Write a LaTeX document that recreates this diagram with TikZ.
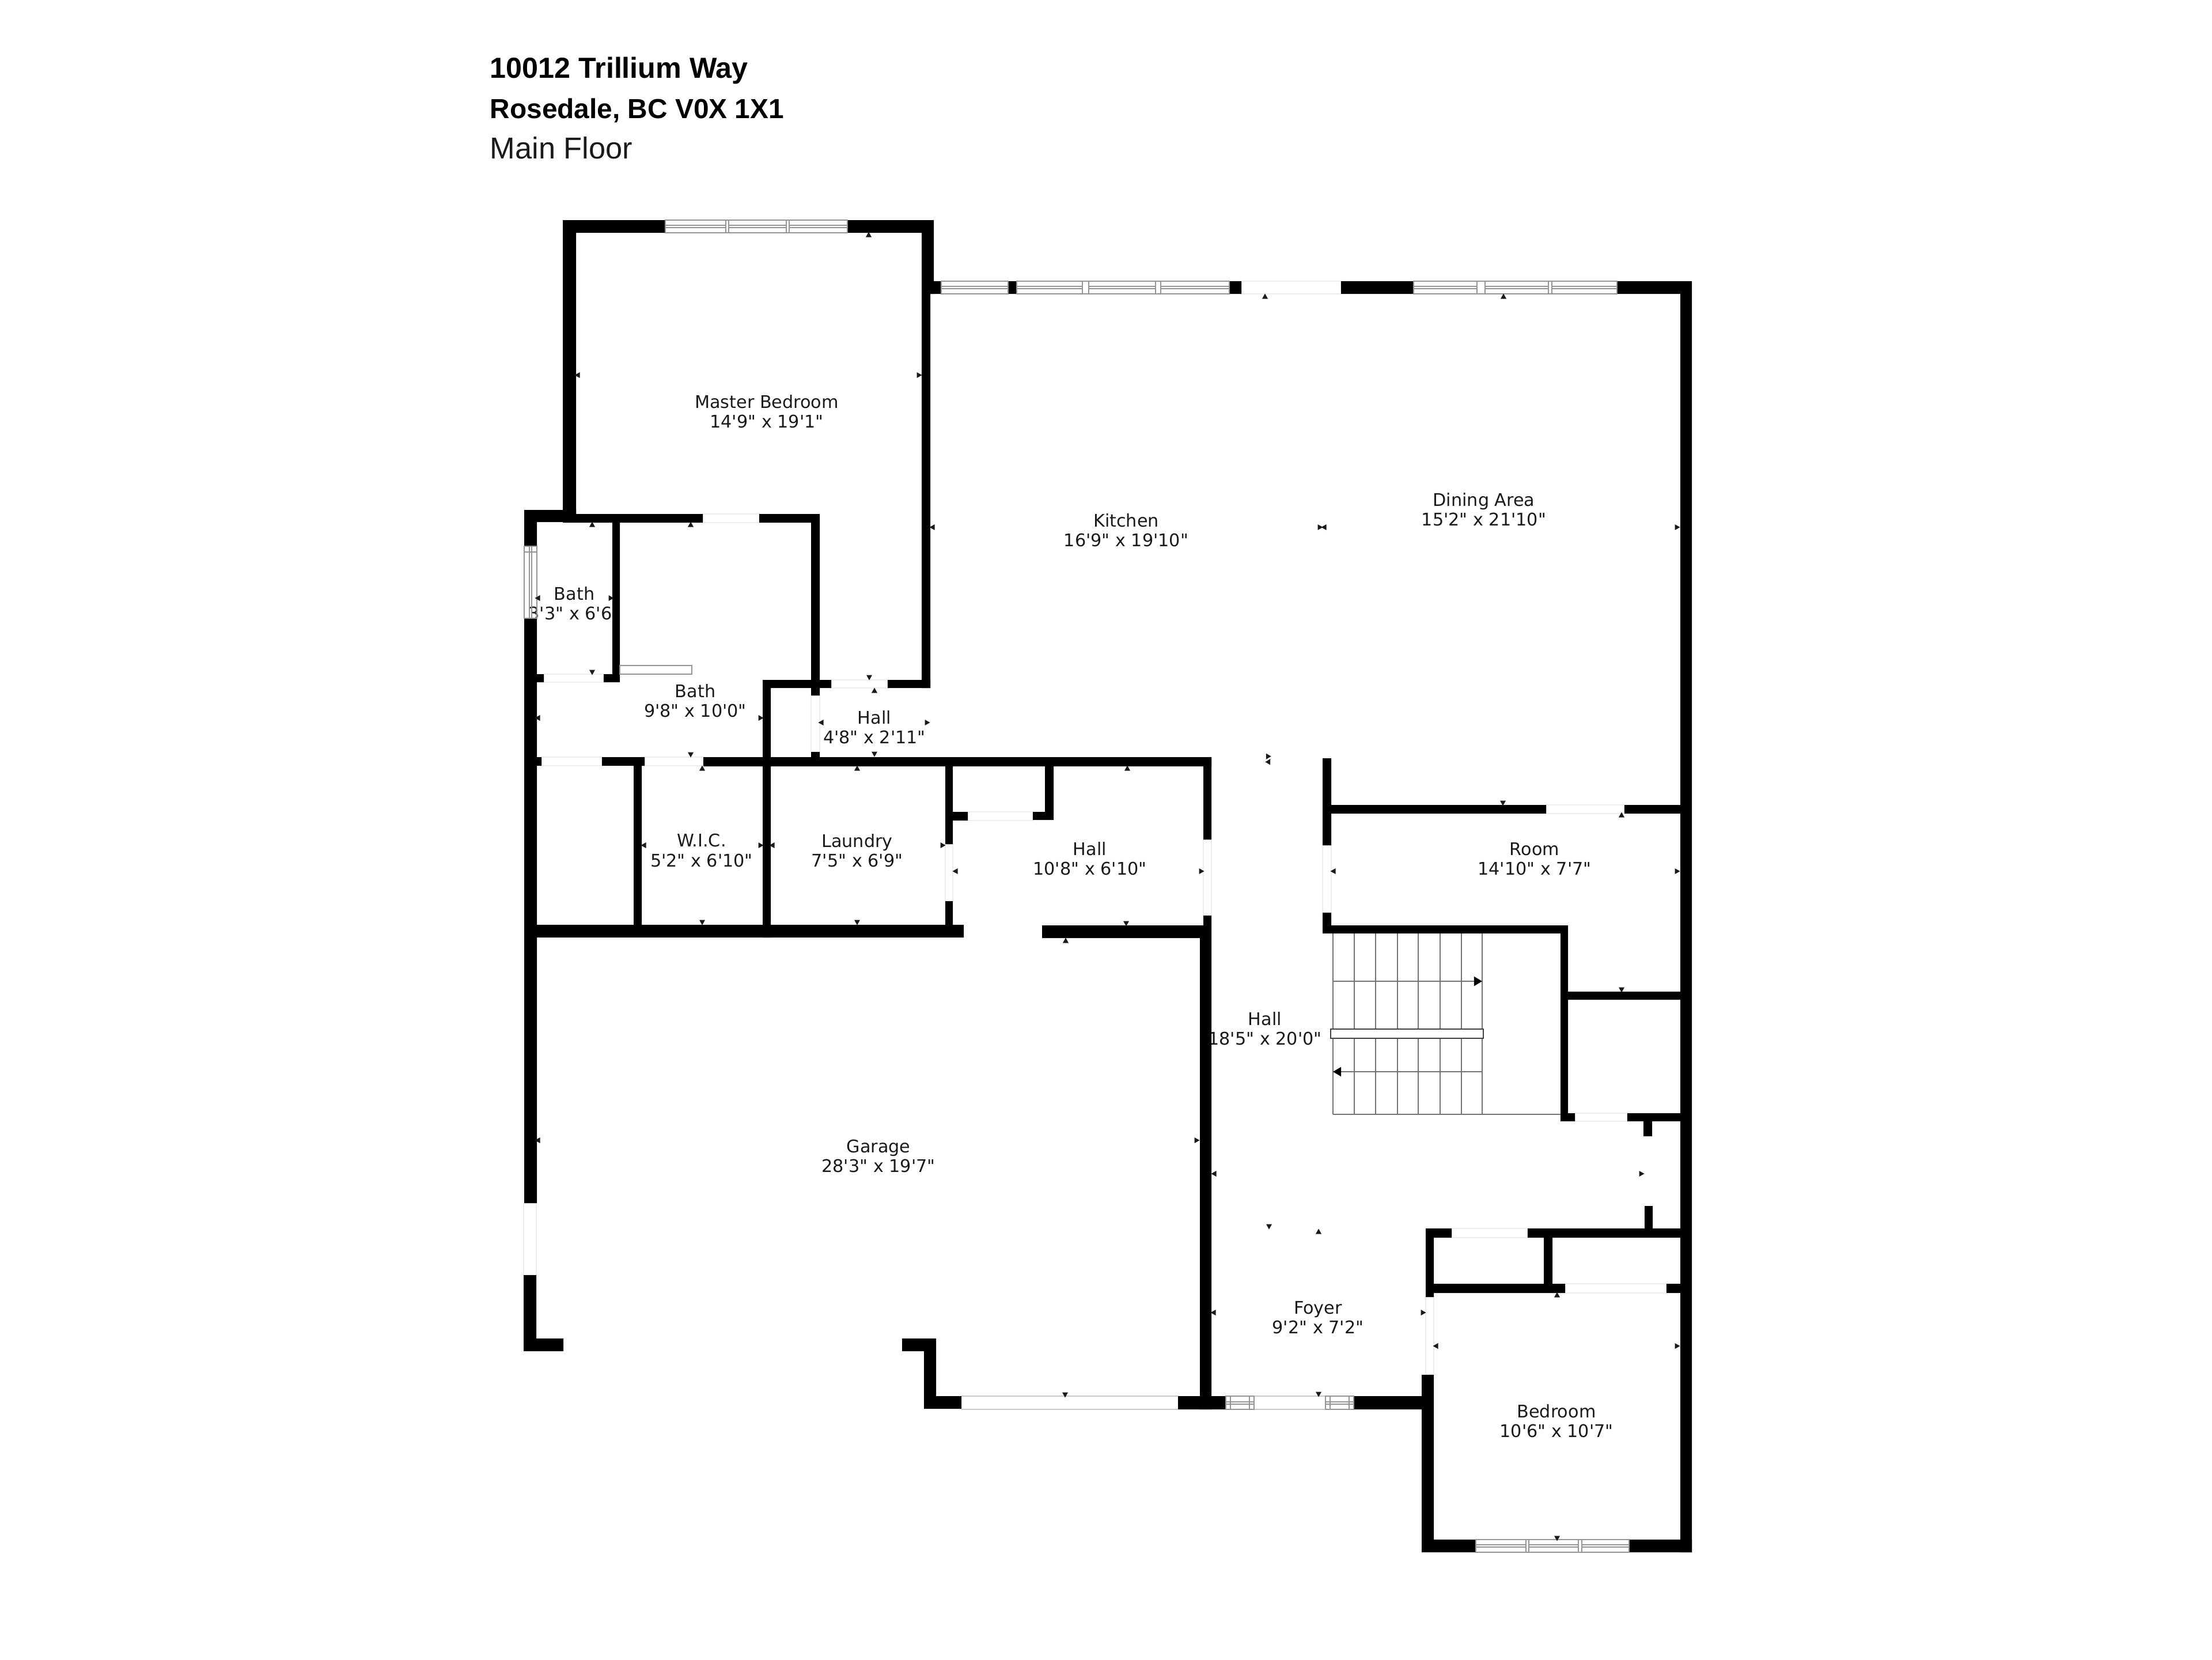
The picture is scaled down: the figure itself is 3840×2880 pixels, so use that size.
\documentclass[tikz,border=0pt]{standalone}
\usepackage{fontspec}
\usetikzlibrary{arrows.meta}
\newfontfamily\roomfont{DejaVu Sans}
\newfontfamily\headfont{Liberation Sans}
\definecolor{labelink}{HTML}{1A1A1A}
\tikzset{
	wall/.style={fill=black},
	doorway/.style={draw=black!7,line width=0.5pt},
	entrydoor/.style={draw=black!22,line width=0.6pt},
	windowline/.style={draw=black!42,line width=0.7pt},
	stairline/.style={draw=black!55,line width=0.5pt},
	stairtip/.style={-{Triangle[length=4pt,width=4.6pt,color=black]}},
	roomlabel/.style={font=\roomfont\fontsize{8.6}{9.7}\selectfont,text=labelink,align=center,inner sep=0pt},
	headbold/.style={font=\headfont\bfseries\fontsize{13.6}{16}\selectfont,anchor=base west,inner sep=0pt},
	headplain/.style={font=\headfont\fontsize{14.9}{16}\selectfont,text=labelink,anchor=base west,inner sep=0pt},
	marker/.pic={\fill[labelink] (-5,4.5) -- (5,4.5) -- (0,-4.5) -- cycle;}
}
\begin{document}
\begin{tikzpicture}[x=0.01cm,y=-0.01cm]
	\useasboundingbox (0,0) rectangle (3840,2880);
	
	\node[headbold,font=\headfont\bfseries\fontsize{14.3}{16}\selectfont] (street) at (850,135) {10012 Trillium Way};
	\node[headbold] (city) at (850,205) {Rosedale, BC V0X 1X1};
	\node[headplain] (floor) at (850,275) {Main Floor};
	
	\node[roomlabel] (master) at (1331,714) {Master Bedroom\\14'9" x 19'1"};
	\node[roomlabel] (kitchen) at (1955,920) {Kitchen\\16'9" x 19'10"};
	\node[roomlabel] (dining) at (2576,884) {Dining Area\\15'2" x 21'10"};
	\node[roomlabel] (bathsmall) at (997,1047) {Bath\\3'3" x 6'6"};
	\node[roomlabel] (bathlarge) at (1207,1216) {Bath\\9'8" x 10'0"};
	\node[roomlabel] (hallupper) at (1518,1262) {Hall\\4'8" x 2'11"};
	\node[roomlabel] (wic) at (1218,1476) {W.I.C.\\5'2" x 6'10"};
	\node[roomlabel] (laundry) at (1488,1476) {Laundry\\7'5" x 6'9"};
	\node[roomlabel] (hallmiddle) at (1892,1490) {Hall\\10'8" x 6'10"};
	\node[roomlabel] (room) at (2664,1491) {Room\\14'10" x 7'7"};
	\node[roomlabel] (halllower) at (2196,1785) {Hall\\18'5" x 20'0"};
	\node[roomlabel] (garage) at (1525,2006) {Garage\\28'3" x 19'7"};
	\node[roomlabel] (foyer) at (2288,2287) {Foyer\\9'2" x 7'2"};
	\node[roomlabel] (bedroom) at (2702,2466) {Bedroom\\10'6" x 10'7"};
	
	\foreach \xa/\ya/\xb/\yb in {1220/892/1318/907,944/1170/1048/1184,1408/1207/1423/1305,1443/1180/1541/1194,940/1314/1045/1329,1119/1314/1221/1329,1641/1465/1654/1564,1680/1409/1793/1424,2089/1457/2103/1589,2296/1467/2311/1584,2684/1397/2820/1412,2734/1932/2825/1946,2155/488/2328/510,2520/2132/2652/2148,2717/2228/2893/2244,2475/2251/2489/2386,909/2088/931/2213}
		\draw[doorway] (\xa,\ya) rectangle (\xb,\yb);
	\draw[entrydoor] (1669,2423) -- (2045,2423) (1669,2446) -- (2045,2446) (2177,2423) -- (2301,2423) (2177,2446) -- (2301,2446);
	
	\fill[wall] (977,382) rectangle (1155,404) (1471,382) rectangle (1621,404) (977,382) rectangle (1000,907) (1600,382) rectangle (1621,510) (1600,510) rectangle (1615,1194);
	\fill[wall] (1613,488) rectangle (1634,510) (1750,488) rectangle (1765,510) (2134,488) rectangle (2155,510) (2328,488) rectangle (2454,510) (2807,488) rectangle (2937,510) (2917,488) rectangle (2937,2694);
	\fill[wall] (910,885) rectangle (1000,906) (1000,892) rectangle (1220,907) (1318,892) rectangle (1422,907) (910,885) rectangle (932,948) (910,1073) rectangle (932,2088) (909,2213) rectangle (931,2345) (909,2323) rectangle (978,2345);
	\fill[wall] (1063,906) rectangle (1076,1184) (1048,1170) rectangle (1076,1184) (932,1170) rectangle (944,1184) (1408,892) rectangle (1423,1207) (1408,1305) rectangle (1423,1314) (1324,1180) rectangle (1443,1194) (1541,1180) rectangle (1615,1194) (1324,1180) rectangle (1338,1627);
	\fill[wall] (932,1314) rectangle (940,1329) (1045,1314) rectangle (1119,1329) (1221,1314) rectangle (2103,1330) (1100,1329) rectangle (1114,1605) (910,1605) rectangle (1673,1627) (1641,1329) rectangle (1654,1465) (1641,1564) rectangle (1654,1605);
	\fill[wall] (1654,1409) rectangle (1680,1424) (1793,1409) rectangle (1829,1423) (1814,1330) rectangle (1829,1423) (1809,1606) rectangle (2089,1628) (2089,1315) rectangle (2103,1457) (2089,1589) rectangle (2103,1628) (2083,1628) rectangle (2103,2446);
	\fill[wall] (2045,2423) rectangle (2128,2446) (2350,2423) rectangle (2475,2446) (1566,2323) rectangle (1625,2345) (1604,2323) rectangle (1625,2445) (1604,2423) rectangle (1669,2445);
	\fill[wall] (2296,1316) rectangle (2311,1467) (2296,1584) rectangle (2311,1620) (2311,1397) rectangle (2684,1412) (2820,1397) rectangle (2917,1412) (2296,1606) rectangle (2722,1620) (2709,1606) rectangle (2722,1946) (2722,1721) rectangle (2917,1735) (2709,1932) rectangle (2734,1946) (2825,1932) rectangle (2917,1946) (2853,1946) rectangle (2868,1972);
	\fill[wall] (2855,2093) rectangle (2869,2132) (2475,2132) rectangle (2520,2148) (2652,2132) rectangle (2917,2148) (2475,2132) rectangle (2489,2251) (2680,2148) rectangle (2695,2230) (2489,2228) rectangle (2717,2244) (2893,2228) rectangle (2917,2244) (2468,2386) rectangle (2489,2694) (2468,2672) rectangle (2562,2694) (2828,2672) rectangle (2937,2694);
	
	\foreach \xa/\xb in {1155/1260,1265/1365,1370/1471}
		\draw[windowline] (\xa,382) rectangle (\xb,404) (\xa,391) -- (\xb,391) (\xa,395) -- (\xb,395);
	\foreach \xa/\xb in {1634/1750,1765/1879,1890/2006,2015/2134,2454/2564,2578/2688,2694/2807}
		\draw[windowline] (\xa,488) rectangle (\xb,510) (\xa,497) -- (\xb,497) (\xa,501) -- (\xb,501);
	\foreach \xa/\xb in {2562/2649,2654/2740,2746/2828}
		\draw[windowline] (\xa,2672) rectangle (\xb,2694) (\xa,2681) -- (\xb,2681) (\xa,2685) -- (\xb,2685);
	\foreach \xa/\xb in {2128/2177,2301/2350}
		\draw[windowline] (\xa,2423) rectangle (\xb,2446) (\xa,2433) -- (\xb,2433) (\xa,2437) -- (\xb,2437) (\xa+8,2423) -- (\xa+8,2446) (\xb-8,2423) -- (\xb-8,2446);
	\draw[windowline] (1155,382) -- (1471,382) (1155,404) -- (1471,404) (1765,488) -- (2134,488) (1765,510) -- (2134,510) (2454,488) -- (2807,488) (2454,510) -- (2807,510) (2562,2672) -- (2828,2672) (2562,2694) -- (2828,2694);
	\draw[windowline] (910,948) rectangle (932,1073) (919,948) -- (919,1073) (923,948) -- (923,1073) (910,958) -- (932,958);
	\draw[windowline,fill=white] (1076,1155) rectangle (1201,1170);
	
	\foreach \xa in {2314,2351,2388,2426,2462,2500,2537,2573}
		\draw[stairline] (\xa,1620) -- (\xa,1934);
	\coordinate (flightlow) at (2314,1934); \coordinate (flightend) at (2709,1934);
	\draw[stairline] (flightlow) -- (flightend);
	\coordinate (upstart) at (2314,1703); \coordinate (upend) at (2573,1703); \coordinate (downstart) at (2573,1860); \coordinate (downend) at (2314,1860);
	\draw[stairline,stairtip] (upstart) -- (upend);
	\draw[stairline,stairtip] (downstart) -- (downend);
	\draw[draw=black!75,fill=white,line width=0.6pt] (2310,1786) rectangle (2575,1802);
	
	\foreach \xa/\ya/\r in {1508/407/0,1002/651/90,1596/651/-90,1618/915/90,2196/514/0,2610/514/0,2292/915/-90,2298/915/90,2912/915/-90,1028/910/0,933/1038/90,1061/1038/-90,1028/1167/180,1199/910/0,933/1246/90,1321/1246/-90,1199/1310/180,1509/1176/180,1518/1198/0,1425/1254/90,1610/1254/-90,1518/1309/180,1219/1333/0,1117/1467/90,1321/1467/-90,1219/1601/180,1488/1333/0,1340/1467/90,1637/1467/-90,1488/1601/180,1957/1333/0,1658/1512/90,2086/1512/-90,1955/1603/180,1850/1632/0,2078/1979/-90,933/1979/90,1849/2421/180,2609/1394/180,2815/1414/0,2314/1512/90,2912/1512/-90,2815/1718/180,2200/1314/150,2203/1321/-30,2107/2037/90,2850/2037/-90,2203/2129/180,2289/2137/0,2106/2278/90,2471/2278/-90,2289/2420/180,2703/2247/0,2492/2336/90,2912/2336/-90,2703/2670/180}
		\pic[rotate=\r] at (\xa,\ya) {marker};
\end{tikzpicture}
\end{document}
